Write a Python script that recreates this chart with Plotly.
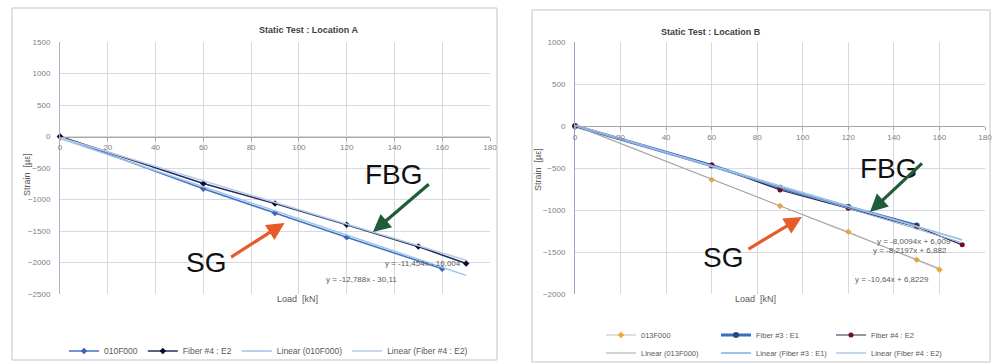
import plotly.graph_objects as go

W, H = 994, 364

# ---------------- data ----------------
load_ticks = list(range(0, 181, 20))
a_strain_ticks = [1500, 1000, 500, 0, -500, -1000, -1500, -2000, -2500]
b_strain_ticks = [1000, 500, 0, -500, -1000, -1500, -2000]

# Location A
a_sg_load = [0, 60, 90, 120, 160]
a_sg_strain = [0, -830, -1215, -1600, -2100]
a_f4_load = [0, 60, 90, 120, 150, 170]
a_f4_strain = [0, -745, -1065, -1400, -1748, -2015]

a_trend_names = ["Linear (010F000)", "Linear (Fiber #4 : E2)"]
a_trend_slope = [-12.788, -11.454]
a_trend_icpt = [-30.11, -16.004]
a_trend_end = [170, 170]
a_trend_text = ["y = -12,788x - 30,11", "y = -11,454x - 16,004"]
a_trend_text_pos = [(126, -2262), (152, -2008)]

# Location B
b_sg_load = [0, 60, 90, 120, 150, 160]
b_sg_strain = [0, -640, -952, -1260, -1592, -1710]
b_f3_load = [0, 60, 90, 120, 150]
b_f3_strain = [0, -470, -735, -965, -1185]
b_f4_load = [0, 60, 90, 120, 150, 170]
b_f4_strain = [0, -464, -762, -980, -1200, -1415]

b_trend_names = ["Linear (013F000)", "Linear (Fiber #3 : E1)", "Linear (Fiber #4 : E2)"]
b_trend_slope = [-10.64, -8.0094, -8.2197]
b_trend_icpt = [6.8229, 6.009, 6.882]
b_trend_end = [160, 170, 170]
b_trend_text = ["y = -10,64x + 6,8229", "y = -8,0094x + 6,009", "y = -8,2197x + 6,882"]
b_trend_text_pos = [(139, -1833), (149, -1369), (147, -1488)]

# ---------------- helpers ----------------
def py(p):
    return 1 - p / H

TICKFONT = dict(family="Liberation Sans, Arial", size=8, color="#7f7f7f")
GRID = "#d6d9e2"

fig = go.Figure()

# ---- Location A traces ----
fig.add_trace(go.Scatter(x=a_sg_load, y=a_sg_strain, name="010F000", mode="lines+markers",
                         line=dict(color="#4472c4", width=1.6),
                         marker=dict(symbol="diamond", size=5, color="#3f63b8"),
                         xaxis="x", yaxis="y", legend="legend", cliponaxis=False))
fig.add_trace(go.Scatter(x=a_f4_load, y=a_f4_strain, name="Fiber #4 : E2", mode="lines+markers",
                         line=dict(color="#1f2f60", width=1.6),
                         marker=dict(symbol="diamond", size=5, color="#0d0d26"),
                         xaxis="x", yaxis="y", legend="legend", cliponaxis=False))
a_trend_colors = ["#9dc3e6", "#b8c9e6"]
for n, s, c, e, col in zip(a_trend_names, a_trend_slope, a_trend_icpt, a_trend_end, a_trend_colors):
    fig.add_trace(go.Scatter(x=[0, e], y=[c, s * e + c], name=n, mode="lines",
                             line=dict(color=col, width=1.5),
                             xaxis="x", yaxis="y", legend="legend"))

# ---- Location B traces ----
fig.add_trace(go.Scatter(x=b_sg_load, y=b_sg_strain, name="013F000", mode="lines+markers",
                         line=dict(color="#bfbfbf", width=1),
                         marker=dict(symbol="diamond", size=5, color="#f0a830"),
                         xaxis="x2", yaxis="y2", legend="legend2", cliponaxis=False))
fig.add_trace(go.Scatter(x=b_f3_load, y=b_f3_strain, name="Fiber #3 : E1", mode="lines+markers",
                         line=dict(color="#3a6dc2", width=3),
                         marker=dict(symbol="circle", size=6, color="#1f4e79"),
                         xaxis="x2", yaxis="y2", legend="legend2", cliponaxis=False))
fig.add_trace(go.Scatter(x=b_f4_load, y=b_f4_strain, name="Fiber #4 : E2", mode="lines+markers",
                         line=dict(color="#2b2b4b", width=1.2),
                         marker=dict(symbol="circle", size=5, color="#6b1020"),
                         xaxis="x2", yaxis="y2", legend="legend2", cliponaxis=False))
b_trend_colors = ["#a6a6a6", "#9dc3e6", "#8ea9db"]
b_trend_widths = [1, 2, 1]
for n, s, c, e, col, w in zip(b_trend_names, b_trend_slope, b_trend_icpt, b_trend_end,
                              b_trend_colors, b_trend_widths):
    fig.add_trace(go.Scatter(x=[0, e], y=[c, s * e + c], name=n, mode="lines",
                             line=dict(color=col, width=w),
                             xaxis="x2", yaxis="y2", legend="legend3"))

# ---------------- axes ----------------
a_ydom = [py(294), py(42)]
b_ydom = [py(294), py(42)]
a_yr = [min(a_strain_ticks), max(a_strain_ticks)]
b_yr = [min(b_strain_ticks), max(b_strain_ticks)]
a_zero = a_ydom[0] + (0 - a_yr[0]) / (a_yr[1] - a_yr[0]) * (a_ydom[1] - a_ydom[0])
b_zero = b_ydom[0] + (0 - b_yr[0]) / (b_yr[1] - b_yr[0]) * (b_ydom[1] - b_ydom[0])

xcommon = dict(range=[0, 180], tickvals=load_ticks, showgrid=True, gridcolor=GRID, gridwidth=1,
               zeroline=False, showline=True, linecolor="#a6a6a6", linewidth=1,
               ticks="outside", ticklen=3, tickcolor="#a6a6a6", tickfont=TICKFONT,
               anchor="free")
ycommon = dict(showgrid=True, gridcolor=GRID, gridwidth=1, zeroline=False,
               showline=True, linewidth=1, ticks="", tickfont=TICKFONT, ticklabelstandoff=7)

fig.update_layout(
    xaxis=dict(domain=[60 / W, 490 / W], position=a_zero, **xcommon),
    yaxis=dict(domain=a_ydom, range=a_yr, tickvals=a_strain_ticks, anchor="x",
               linecolor="#b0b0c8", **ycommon),
    xaxis2=dict(domain=[575 / W, 985 / W], position=b_zero, **xcommon),
    yaxis2=dict(domain=b_ydom, range=b_yr, tickvals=b_strain_ticks, anchor="x2",
                linecolor="#a0a0d0", **ycommon),
)

# ---------------- legends ----------------
LFA = dict(family="Liberation Sans, Arial", size=8.5, color="#595959")
LFB = dict(family="Liberation Sans, Arial", size=7.5, color="#595959")
fig.update_layout(
    legend=dict(orientation="h", x=64 / W, y=py(351), xanchor="left", yanchor="middle",
                xref="container", yref="container", itemwidth=30,
                font=LFA, bgcolor="rgba(0,0,0,0)"),
    legend2=dict(orientation="h", x=601 / W, y=py(335), xanchor="left", yanchor="middle",
                 xref="container", yref="container", itemwidth=30,
                 font=LFB, entrywidth=70, entrywidthmode="pixels", bgcolor="rgba(0,0,0,0)"),
    legend3=dict(orientation="h", x=601 / W, y=py(353), xanchor="left", yanchor="middle",
                 xref="container", yref="container", itemwidth=30,
                 font=LFB, entrywidth=70, entrywidthmode="pixels", bgcolor="rgba(0,0,0,0)"),
)

# ---------------- annotations ----------------
ann = []
TF = dict(family="Liberation Sans, Arial", size=9, color="#404040")
ann.append(dict(text="<b>Static Test : Location A</b>", x=257 / W, y=py(23), xref="paper", yref="paper",
                showarrow=False, font=TF))
ann.append(dict(text="<b>Static Test : Location B</b>", x=763 / W, y=py(25), xref="paper", yref="paper",
                showarrow=False, font=TF))
AF = dict(family="Liberation Sans, Arial", size=9, color="#595959")
ann.append(dict(text="Load  [kN]", x=275 / W, y=py(306), xref="paper", yref="paper", showarrow=False, font=AF))
ann.append(dict(text="Load  [kN]", x=778 / W, y=py(306), xref="paper", yref="paper", showarrow=False, font=AF))
ann.append(dict(text="Strain  [µε]", x=20 / W, y=py(175), xref="paper", yref="paper", showarrow=False,
                textangle=-90, font=AF))
ann.append(dict(text="Strain  [µε]", x=538 / W, y=py(170), xref="paper", yref="paper", showarrow=False,
                textangle=-90, font=AF))

EF = dict(family="Liberation Sans, Arial", size=8, color="#595959")
for t, (xx, yy) in zip(a_trend_text, a_trend_text_pos):
    ann.append(dict(text=t, x=xx, y=yy, xref="x", yref="y", showarrow=False, font=EF))
for t, (xx, yy) in zip(b_trend_text, b_trend_text_pos):
    ann.append(dict(text=t, x=xx, y=yy, xref="x2", yref="y2", showarrow=False, font=EF))

BIG = dict(family="Liberation Sans, Arial", size=28, color="#111111")
ann.append(dict(text="FBG", x=140, y=-611, xref="x", yref="y", showarrow=False, font=BIG))
ann.append(dict(text="SG", x=61, y=-1992, xref="x", yref="y", showarrow=False, font=BIG))
ann.append(dict(text="FBG", x=138, y=-500, xref="x2", yref="y2", showarrow=False, font=BIG))
ann.append(dict(text="SG", x=65, y=-1571, xref="x2", yref="y2", showarrow=False, font=BIG))

GREEN = "#1f5c3a"
ORANGE = "#e85a2a"
arrows = [
    ("x", "y", 131, -1516, 155, -738, GREEN),
    ("x", "y", 94, -1373, 71, -1929, ORANGE),
    ("x2", "y2", 129.5, -1024, 153, -429, GREEN),
    ("x2", "y2", 99.6, -1083, 75.5, -1476, ORANGE),
]
for xr, yr, hx, hy, tx, tyy, col in arrows:
    ann.append(dict(text="", x=hx, y=hy, xref=xr, yref=yr, ax=tx, ay=tyy, axref=xr, ayref=yr,
                    showarrow=True, arrowhead=2, arrowsize=1.1, arrowwidth=3.2, arrowcolor=col,
                    standoff=0, startstandoff=0))

fig.update_layout(annotations=ann)

# panel borders
fig.update_layout(shapes=[
    dict(type="rect", xref="paper", yref="paper", x0=12 / W, x1=497 / W, y0=py(360), y1=py(8),
         line=dict(color="#c4c4c4", width=1), layer="below"),
    dict(type="rect", xref="paper", yref="paper", x0=532 / W, x1=990 / W, y0=py(362), y1=py(10),
         line=dict(color="#c4c4c4", width=1), layer="below"),
])

fig.update_layout(width=W, height=H, margin=dict(l=0, r=0, t=0, b=0, autoexpand=False),
                  paper_bgcolor="white", plot_bgcolor="white", showlegend=True)

fig.write_html("out.html")
